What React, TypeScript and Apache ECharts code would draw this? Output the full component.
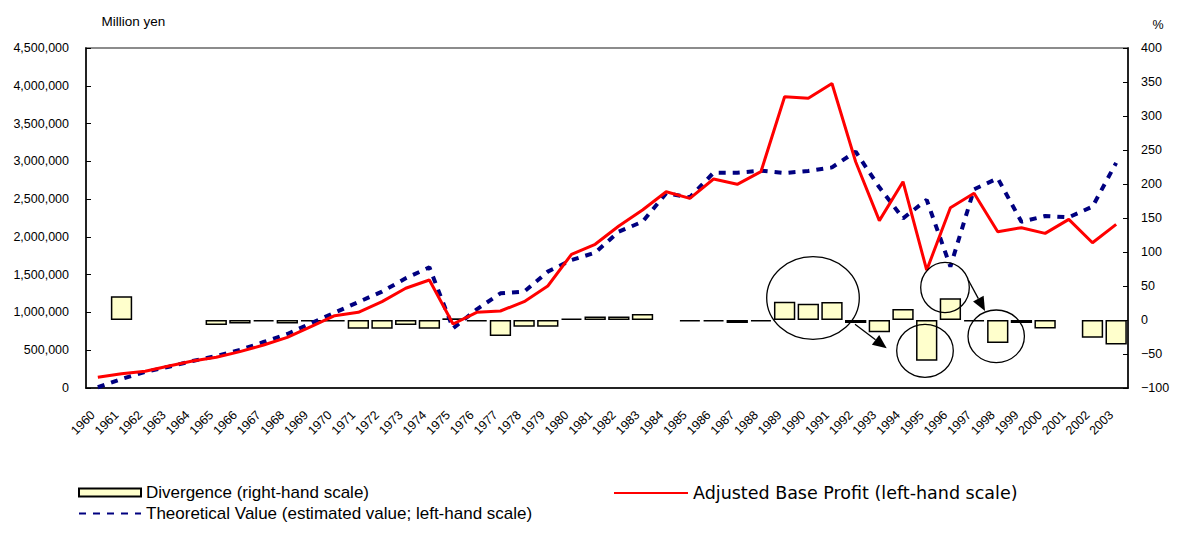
import React, { useEffect, useRef } from "react";
import * as echarts from "echarts";

const years = [
  "1960", "1961", "1962", "1963", "1964", "1965", "1966", "1967", "1968", "1969",
  "1970", "1971", "1972", "1973", "1974", "1975", "1976", "1977", "1978", "1979",
  "1980", "1981", "1982", "1983", "1984", "1985", "1986", "1987", "1988", "1989",
  "1990", "1991", "1992", "1993", "1994", "1995", "1996", "1997", "1998", "1999",
  "2000", "2001", "2002", "2003",
];

const adjustedBaseProfit = [
  141000, 190000, 221000, 291000, 357000, 406000, 481000, 569000, 671000, 812000,
  957000, 1002000, 1143000, 1320000, 1429000, 847000, 1002000, 1019000, 1143000, 1350000,
  1769000, 1902000, 2144000, 2356000, 2598000, 2510000, 2766000, 2696000, 2863000, 3855000,
  3834000, 4030000, 2995000, 2215000, 2730000, 1560000, 2386000, 2577000, 2069000, 2122000,
  2047000, 2232000, 1923000, 2166000,
];

const theoreticalValue = [
  10000, 119000, 212000, 282000, 357000, 424000, 503000, 609000, 715000, 856000,
  997000, 1138000, 1275000, 1452000, 1597000, 790000, 1041000, 1253000, 1275000, 1540000,
  1694000, 1791000, 2069000, 2201000, 2577000, 2524000, 2850000, 2850000, 2876000, 2845000,
  2872000, 2920000, 3128000, 2656000, 2246000, 2490000, 1606000, 2630000, 2775000, 2200000,
  2276000, 2259000, 2400000, 2980000,
];

const divergence = [
  null, 35, null, null, null, -7.5, -5, -2, -5, -2,
  -2, -13, -13, -7.5, -13, 2.5, -2, -23.5, -10, -10,
  2, 5, 5, 9, null, -2, -2, -4.5, -2, 27,
  24, 26.5, -4.5, -18, 16, -60, 32, -2, -34, -4.5,
  -12.5, null, -26, -36,
];

const leftTicks = { min: 0, max: 4500000, interval: 500000 };
const rightTicks = { min: -100, max: 400, interval: 50 };

const NAME_DIV = "Divergence (right-hand scale)";
const NAME_ABP = "Adjusted Base Profit (left-hand scale)";
const NAME_TV = "Theoretical Value (estimated value; left-hand scale)";

const FONT = "'Liberation Sans', Arial, Helvetica, sans-serif";
const WIDE_FONT = "'DejaVu Sans', 'Liberation Sans', Arial, sans-serif";

function arrow(x1: number, y1: number, x2: number, y2: number, len = 14, half = 6) {
  const dx = x2 - x1;
  const dy = y2 - y1;
  const d = Math.sqrt(dx * dx + dy * dy);
  const ux = dx / d;
  const uy = dy / d;
  const bx = x2 - ux * len;
  const by = y2 - uy * len;
  return [
    {
      type: "line",
      z: 100,
      shape: { x1, y1, x2: bx, y2: by },
      style: { stroke: "#000", lineWidth: 1.3 },
    },
    {
      type: "polygon",
      z: 100,
      shape: {
        points: [
          [x2, y2],
          [bx - uy * half, by + ux * half],
          [bx + uy * half, by - ux * half],
        ],
      },
      style: { fill: "#000" },
    },
  ];
}

function ell(cx: number, cy: number, rx: number, ry: number) {
  return {
    type: "ellipse",
    z: 100,
    shape: { cx, cy, rx, ry },
    style: { fill: "none", stroke: "#000", lineWidth: 1.3 },
  };
}

const noSymbol = { opacity: 0, color: "transparent", borderWidth: 0 };

export default function App() {
  const ref = useRef<HTMLDivElement>(null);
  useEffect(() => {
    document.body.style.margin = "0";
    const chart = echarts.init(ref.current!, null, { renderer: "svg" });
    const option: any = {
      animation: false,
      backgroundColor: "#fff",
      textStyle: { fontFamily: FONT },
      grid: {
        left: 86,
        right: 49,
        top: 48,
        bottom: 147,
        containLabel: false,
        show: true,
        borderColor: "#8c8c8c",
        borderWidth: 2,
      },
      legend: [
        {
          left: 78,
          top: 484,
          orient: "vertical",
          padding: 0,
          itemGap: 4,
          itemWidth: 62,
          itemHeight: 8,
          selectedMode: false,
          textStyle: { fontSize: 17, color: "#000", fontFamily: FONT },
          data: [
            { name: NAME_DIV, icon: "rect" },
            { name: NAME_TV, itemStyle: noSymbol },
          ],
        },
        {
          left: 613,
          top: 484,
          padding: 0,
          itemWidth: 74,
          itemHeight: 8,
          selectedMode: false,
          textStyle: { fontSize: 17.5, color: "#000", fontFamily: WIDE_FONT },
          data: [{ name: NAME_ABP, itemStyle: noSymbol }],
        },
      ],
      xAxis: {
        type: "category",
        data: years,
        boundaryGap: true,
        axisLine: { onZero: false, lineStyle: { color: "#000", width: 1.5 } },
        axisTick: { inside: true, length: 6, interval: 0, lineStyle: { color: "#000", width: 1 } },
        axisLabel: {
          interval: 0,
          rotate: 45,
          margin: 20,
          fontSize: 12.5,
          color: "#000",
          padding: [0, 7, 0, 0],
        },
        splitLine: { show: false },
      },
      yAxis: [
        {
          type: "value",
          position: "left",
          min: leftTicks.min,
          max: leftTicks.max,
          interval: leftTicks.interval,
          axisLine: { show: true, lineStyle: { color: "#000", width: 1.5 } },
          axisTick: { show: true, inside: true, length: 5, lineStyle: { color: "#000" } },
          axisLabel: {
            margin: 17,
            fontSize: 12.5,
            color: "#000",
            formatter: (v: number) => v.toLocaleString("en-US"),
          },
          splitLine: { show: false },
        },
        {
          type: "value",
          position: "right",
          min: rightTicks.min,
          max: rightTicks.max,
          interval: rightTicks.interval,
          axisLine: { show: true, lineStyle: { color: "#000", width: 1.5 } },
          axisTick: { show: true, inside: true, length: 5, lineStyle: { color: "#000" } },
          axisLabel: {
            margin: 13,
            fontSize: 12.5,
            color: "#000",
            formatter: (v: number) => (v < 0 ? "\u2212" + Math.abs(v) : String(v)),
          },
          splitLine: { show: false },
        },
      ],
      series: [
        {
          name: NAME_DIV,
          type: "bar",
          yAxisIndex: 1,
          data: divergence,
          barCategoryGap: "10%",
          z: 2,
          itemStyle: { color: "#FFFFCC", borderColor: "#000", borderWidth: 1.5 },
        },
        {
          name: NAME_ABP,
          type: "line",
          yAxisIndex: 0,
          data: adjustedBaseProfit,
          symbol: "none",
          z: 4,
          lineStyle: { color: "#FF0000", width: 3 },
          itemStyle: { color: "#FF0000" },
        },
        {
          name: NAME_TV,
          type: "line",
          yAxisIndex: 0,
          data: theoreticalValue,
          symbol: "none",
          z: 3,
          lineStyle: { color: "#000080", width: 4, type: [7, 7] },
          itemStyle: { color: "#000080" },
        },
      ],
      graphic: [
        {
          type: "text",
          z: 100,
          x: 101.5,
          y: 21,
          style: {
            text: "Million yen",
            fill: "#000",
            font: `13.5px ${FONT}`,
            textAlign: "left",
            verticalAlign: "middle",
          },
        },
        {
          type: "text",
          z: 100,
          x: 1152.5,
          y: 25,
          style: {
            text: "%",
            fill: "#000",
            font: `12.5px ${FONT}`,
            textAlign: "left",
            verticalAlign: "middle",
          },
        },
        ell(813, 298, 46.3, 41.3),
        ell(925, 350.8, 28.3, 26.5),
        ell(945, 287.5, 24.3, 25.2),
        ell(996.2, 336.3, 28.2, 26.3),
        ...arrow(855, 324.3, 886.7, 348.3),
        ...arrow(968.3, 280, 985, 311),
      ],
    };
    chart.setOption(option);
    return () => chart.dispose();
  }, []);
  return <div ref={ref} style={{ width: 1177, height: 535 }} />;
}
